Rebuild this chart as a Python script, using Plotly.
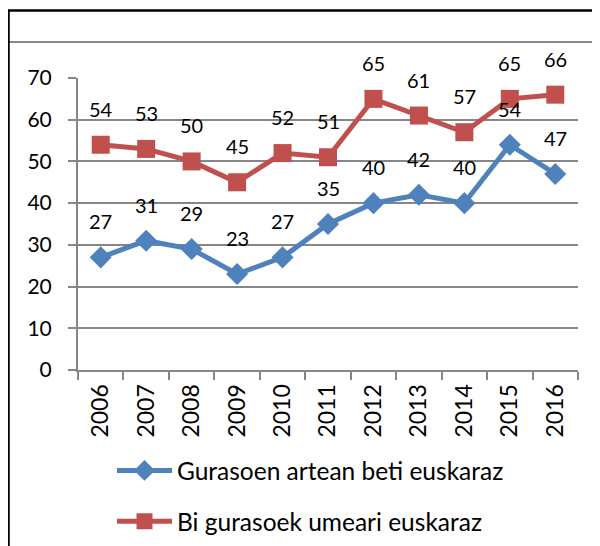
import plotly.graph_objects as go

years = ["2006", "2007", "2008", "2009", "2010", "2011", "2012", "2013", "2014", "2015", "2016"]
beti = [27, 31, 29, 23, 27, 35, 40, 42, 40, 54, 47]
umeari = [54, 53, 50, 45, 52, 51, 65, 61, 57, 65, 66]
name_beti = "Gurasoen artean beti euskaraz"
name_umeari = "Bi gurasoek umeari euskaraz"
blue = "#4F81BD"
red = "#C0504D"
FONT = "Lato"

W, H = 600, 546
OFF = 8  # page body margin
L, R, T, B = 78 - OFF, 578 - OFF, 78 - OFF, 370 - OFF

def px(x):
    return (x - OFF - L) / (R - L)

def py(y):
    return (B - (y - OFF)) / (B - T)

fig = go.Figure()
fig.add_trace(go.Scatter(x=years, y=beti, name=name_beti, mode="lines+markers",
                         line=dict(color=blue, width=5),
                         marker=dict(symbol="diamond", size=17, color=blue),
                         legendgroup="a", cliponaxis=False))
fig.add_trace(go.Scatter(x=years, y=umeari, name=name_umeari, mode="lines+markers",
                         line=dict(color=red, width=5),
                         marker=dict(symbol="square", size=18, color=red),
                         legendgroup="b", cliponaxis=False))

annotations = []
for vals in (beti, umeari):
    for i, v in enumerate(vals):
        annotations.append(dict(x=i, y=v, xref="x", yref="y", text=str(v), showarrow=False,
                                yshift=36, font=dict(family=FONT, size=20, color="black")))

shapes = [
    dict(type="rect", xref="paper", yref="paper", x0=px(8), x1=px(640), y0=py(42), y1=py(600),
         line=dict(color="#888888", width=2), layer="below"),
    dict(type="rect", xref="paper", yref="paper", x0=px(8.5), x1=px(640), y0=py(10.5), y1=py(600),
         line=dict(color="black", width=2.5), layer="below"),
]

fig.update_layout(
    width=W, height=H,
    margin=dict(l=L, r=W - R, t=T, b=H - B, autoexpand=False),
    paper_bgcolor="white", plot_bgcolor="white",
    font=dict(family=FONT, size=20, color="black"),
    showlegend=True,
    legend=dict(xref="container", yref="container", x=(113 - OFF - 1) / W, y=1 - (448 - OFF) / H,
                xanchor="left", yanchor="top", orientation="v",
                tracegroupgap=16, itemwidth=55,
                font=dict(family=FONT, size=24.5, color="black"),
                bgcolor="rgba(0,0,0,0)"),
    annotations=annotations,
    shapes=shapes,
    xaxis=dict(type="category", range=[-0.5, 10.5], tickangle=-90,
               showline=True, linecolor="#868686", linewidth=2,
               ticks="outside", ticklen=8, tickcolor="#868686", tickwidth=2,
               tickson="boundaries", showgrid=False, automargin=False,
               ticklabelstandoff=3,
               tickfont=dict(family=FONT, size=23, color="black")),
    yaxis=dict(range=[0, 70], dtick=10, showline=True, linecolor="#868686", linewidth=2,
               ticks="outside", ticklen=8, tickcolor="#868686", tickwidth=2,
               showgrid=True, gridcolor="#868686", gridwidth=2, zeroline=False, automargin=False,
               ticklabelstandoff=12,
               tickfont=dict(family=FONT, size=21, color="black")),
)

fig.write_html("out.html")
